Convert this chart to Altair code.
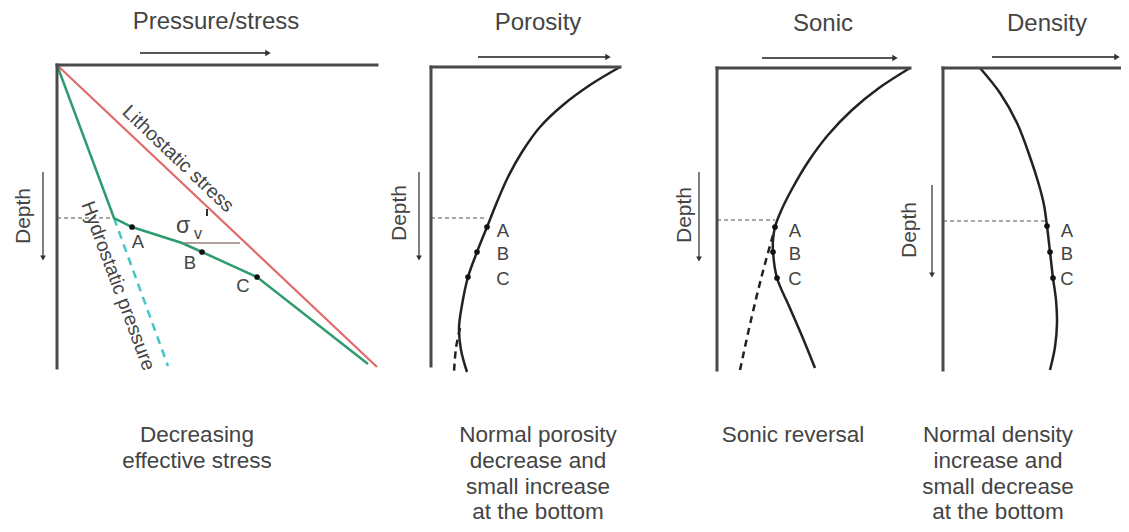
import altair as alt
import pandas as pd

# ---------------- data (pixel-like units) ----------------
# Panel 1: pressure / stress
lith_x = [57, 377]
lith_y = [65, 367]
pore_x = [57, 114, 132, 182, 202, 257, 368]
pore_y = [65, 218, 227, 243, 252, 277, 364]
hydro_x = [114, 168]
hydro_y = [218, 366]
sigma_x = [183, 240]
sigma_y = [243, 243]

# Panel 2: porosity
poro_x = [620, 590, 563, 540, 522, 508, 497, 487, 477, 468, 462, 459, 461, 467]
poro_y = [67, 85, 105, 127, 152, 177, 202, 227, 252, 277, 305, 328, 350, 372]
poro_dash_x = [460, 456, 454]
poro_dash_y = [328, 348, 372]

# Panel 3: sonic
sonic_x = [910, 879, 852, 828, 808, 792, 781, 775, 773, 773, 777, 789, 802, 815]
sonic_y = [68, 88, 110, 135, 162, 189, 211, 227, 240, 252, 278, 306, 336, 368]
sonic_dash_x = [773, 762, 751, 740]
sonic_dash_y = [235, 275, 320, 370]

# Panel 4: density
dens_x = [980, 1000, 1017, 1030, 1039, 1044, 1047, 1050, 1053, 1056, 1057, 1055, 1050]
dens_y = [68, 93, 123, 157, 185, 205, 226, 252, 278, 300, 323, 347, 370]

# A, B, C points
abc_x = [132, 202, 257, 487, 477, 468, 775, 773, 777, 1047, 1050, 1053]
abc_y = [227, 252, 277, 227, 252, 277, 227, 252, 278, 226, 252, 278]
abc_lab = ["A", "B", "C"] * 4
abc_lx = [138, 190, 243, 503, 503, 503, 795, 795, 795, 1067, 1067, 1067]
abc_ly = [242, 263, 286, 231, 254, 279, 231, 254, 279, 231, 254, 279]

# Frames (axes) of each panel: x0, y0 (corner), x1 (top end), y1 (left end)
frame_x0 = [57, 431, 717, 943]
frame_y0 = [65, 67, 68, 68]
frame_x1 = [377, 620, 910, 1121]
frame_y1 = [368, 366, 370, 370]

# Direction arrows above panels
top_arrow_x0 = [140, 478, 762, 992]
top_arrow_x1 = [268, 608, 895, 1117]
top_arrow_y = [53, 57, 58, 57]
# Depth arrows
depth_arrow_x = [43, 419, 699, 932]
depth_arrow_y0 = [172, 172, 172, 185]
depth_arrow_y1 = [258, 258, 259, 275]
depth_lab_x = [24, 400, 685, 910]
depth_lab_y = [216, 213, 215, 230]

# Reference depth dashed lines
ref_x0 = [57, 431, 717, 943]
ref_x1 = [114, 487, 775, 1047]
ref_y = [218, 218, 220, 221]

titles = ["Pressure/stress", "Porosity", "Sonic", "Density"]
title_x = [216, 538, 823, 1047]
title_y = [22, 23, 24, 24]

captions = [
    ["Decreasing", "effective stress"],
    ["Normal porosity", "decrease and", "small increase", "at the bottom"],
    ["Sonic reversal"],
    ["Normal density", "increase and", "small decrease", "at the bottom"],
]
caption_x = [197, 538, 793, 998]
caption_y0 = 435
caption_dy = 25.8

FONT = "Arial, Liberation Sans, Helvetica, sans-serif"

# ---------------- scales ----------------
W, H = 1113, 516
xs = alt.Scale(domain=[8, 8 + W], nice=False, zero=False)
ys = alt.Scale(domain=[8, 8 + H], nice=False, zero=False, reverse=True)


def X(f="x"):
    return alt.X(f"{f}:Q", scale=xs, axis=None)


def Y(f="y"):
    return alt.Y(f"{f}:Q", scale=ys, axis=None)


def line_df(series):
    rows = []
    for g, (xx, yy) in enumerate(series):
        for i, (a, b) in enumerate(zip(xx, yy)):
            rows.append({"g": g, "o": i, "x": a, "y": b})
    return pd.DataFrame(rows)


def text_layer(xx, yy, tt, size, angle=0):
    return alt.Chart(pd.DataFrame({"x": xx, "y": yy, "t": tt})).mark_text(
        angle=angle, fontSize=size, font=FONT, color=TXT, align="center", baseline="middle"
    ).encode(x=X(), y=Y(), text="t:N")


TXT = "#444444"
AX = "#4a4a4a"

# frames
frame_rows = []
for x0, y0, x1, y1 in zip(frame_x0, frame_y0, frame_x1, frame_y1):
    frame_rows.append({"x": x0, "y": y0, "x2": x1, "y2": y0})
    frame_rows.append({"x": x0, "y": y0, "x2": x0, "y2": y1})
frames = alt.Chart(pd.DataFrame(frame_rows)).mark_rule(
    color=AX, strokeWidth=3, strokeCap="square"
).encode(x=X(), y=Y(), x2="x2:Q", y2="y2:Q")

# top arrows
ta = pd.DataFrame({"x": top_arrow_x0, "x2": top_arrow_x1, "y": top_arrow_y})
top_arrows = alt.Chart(ta).mark_rule(color="#555555", strokeWidth=2).encode(
    x=X(), x2="x2:Q", y=Y()
)
top_heads = alt.Chart(ta).mark_point(
    shape="triangle-right", filled=True, color="#333333", size=40, opacity=1
).encode(x=X("x2"), y=Y())

da = pd.DataFrame({"x": depth_arrow_x, "y": depth_arrow_y0, "y2": depth_arrow_y1})
depth_arrows = alt.Chart(da).mark_rule(color="#555555", strokeWidth=1.5).encode(
    x=X(), y=Y(), y2="y2:Q"
)
depth_heads = alt.Chart(da).mark_point(
    shape="triangle-down", filled=True, color="#333333", size=32, opacity=1
).encode(x=X(), y=Y("y2"))

depth_labels = text_layer(depth_lab_x, depth_lab_y, ["Depth"] * 4, 21, angle=270)

# reference dashed lines
refs = alt.Chart(pd.DataFrame({"x": ref_x0, "x2": ref_x1, "y": ref_y})).mark_rule(
    color="#8a8a8a", strokeWidth=1.5, strokeDash=[4, 3]
).encode(x=X(), x2="x2:Q", y=Y())

# panel 1 lines
lith = alt.Chart(line_df([(lith_x, lith_y)])).mark_line(
    color="#e06a6a", strokeWidth=2.2
).encode(x=X(), y=Y(), order="o:Q")
hydro = alt.Chart(line_df([(hydro_x, hydro_y)])).mark_line(
    color="#45c6c6", strokeWidth=2.5, strokeDash=[8, 6]
).encode(x=X(), y=Y(), order="o:Q")
pore = alt.Chart(line_df([(pore_x, pore_y)])).mark_line(
    color="#2e9c6e", strokeWidth=2.5
).encode(x=X(), y=Y(), order="o:Q")
sigma = alt.Chart(line_df([(sigma_x, sigma_y)])).mark_line(
    color="#9b7f7f", strokeWidth=1.6
).encode(x=X(), y=Y(), order="o:Q")
sigma_tick = alt.Chart(pd.DataFrame({"x": [207], "y": [209], "y2": [216]})).mark_rule(
    color="#333333", strokeWidth=2
).encode(x=X(), y=Y(), y2="y2:Q")

# curves
solid = alt.Chart(line_df([(poro_x, poro_y), (sonic_x, sonic_y), (dens_x, dens_y)])).mark_line(
    color="#222222", strokeWidth=2.5, interpolate="catmull-rom"
).encode(x=X(), y=Y(), detail="g:N", order="o:Q")
dashed = alt.Chart(line_df([(poro_dash_x, poro_dash_y), (sonic_dash_x, sonic_dash_y)])).mark_line(
    color="#222222", strokeWidth=2.5, strokeDash=[7, 5], interpolate="catmull-rom"
).encode(x=X(), y=Y(), detail="g:N", order="o:Q")

# A B C
pts = alt.Chart(pd.DataFrame({"x": abc_x, "y": abc_y})).mark_circle(
    color="#111111", size=32, opacity=1
).encode(x=X(), y=Y())
pt_labels = text_layer(abc_lx, abc_ly, abc_lab, 18.5)

# rotated labels in panel 1
lith_lab = text_layer([178], [159], ["Lithostatic stress"], 19.5, angle=43.5)
hydro_lab = text_layer([118], [286], ["Hydrostatic pressure"], 19.5, angle=69.6)
sig_lab = text_layer([183], [226], ["σ"], 23)
sig_sub = text_layer([198], [234], ["v"], 16)

# titles
title_layer = text_layer(title_x, title_y, titles, 24)

# captions
cap_x, cap_y, cap_t = [], [], []
for lines, cx in zip(captions, caption_x):
    for i, ln in enumerate(lines):
        cap_x.append(cx)
        cap_y.append(caption_y0 + i * caption_dy)
        cap_t.append(ln)
cap_layer = text_layer(cap_x, cap_y, cap_t, 22.5)

chart = alt.layer(
    refs, lith, hydro, pore, sigma, sigma_tick, solid, dashed, frames,
    top_arrows, top_heads, depth_arrows, depth_heads, depth_labels,
    pts, pt_labels, lith_lab, hydro_lab, sig_lab, sig_sub, title_layer, cap_layer,
).properties(
    width=W, height=H, padding=0, autosize=alt.AutoSizeParams(type="none")
).configure(background="white").configure_view(stroke=None, strokeWidth=0)

chart.save("out.html", embed_options={"renderer": "svg", "actions": False})
